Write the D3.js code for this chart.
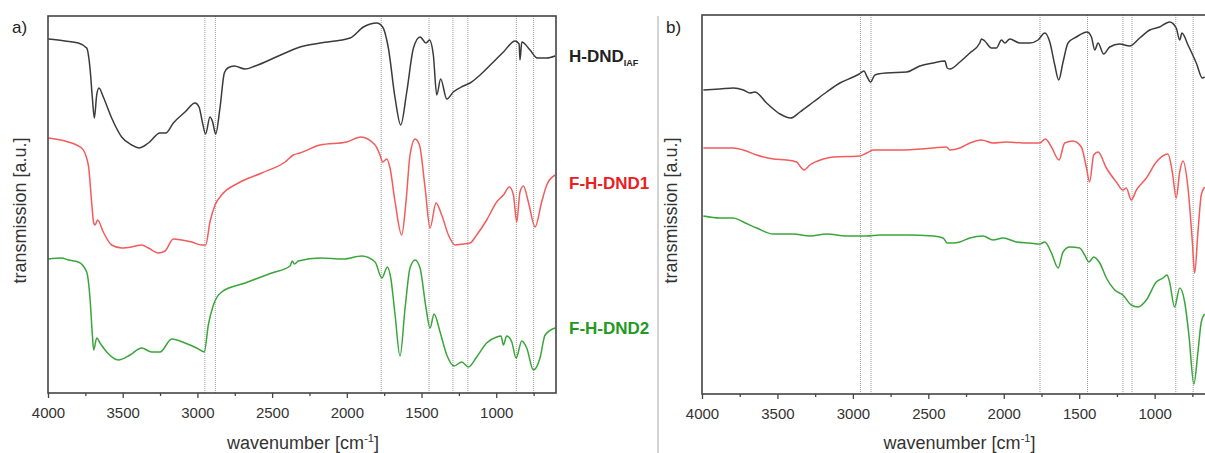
<!DOCTYPE html>
<html>
<head>
<meta charset="utf-8">
<script src="https://cdn.jsdelivr.net/npm/d3@7"></script>
<style>
  body { margin: 0; background: #fff; }
  svg { display: block; font-family: "Liberation Sans", Arial, sans-serif; }
</style>
</head>
<body>
<div id="chart"></div>
<script>
// spectra as [wavenumber, transmission a.u.] pairs
const hdndA = [[3998,354],[3886,352],[3797,350],[3741,345],[3719,325],[3703,295],[3690,275],[3674,298],[3659,305],[3630,296],[3574,275],[3507,256],[3440,248],[3391,245],[3328,250],[3250,260],[3212,260],[3161,270],[3083,281],[3016,290],[2989,286],[2967,271],[2945,259],[2916,276],[2898,271],[2878,259],[2849,285],[2820,320],[2797,325],[2753,327],[2681,324],[2614,327],[2458,337],[2313,346],[2179,350],[1978,355],[1889,366],[1800,370],[1760,366],[1722,345],[1677,295],[1639,268],[1599,301],[1554,345],[1510,356],[1470,350],[1447,353],[1421,338],[1398,298],[1372,314],[1331,294],[1287,301],[1220,307],[1175,310],[1108,318],[1019,331],[952,341],[874,352],[847,349],[841,333],[829,351],[774,343],[725,335],[662,335],[606,337]];
const fhdnd1A = [[3998,255],[3886,252],[3775,245],[3730,228],[3708,191],[3694,170],[3685,168],[3668,173],[3630,161],[3574,148],[3507,145],[3440,146],[3373,148],[3328,145],[3261,140],[3217,142],[3161,154],[3105,153],[3038,151],[2971,148],[2945,148],[2916,171],[2882,188],[2838,198],[2726,210],[2570,220],[2414,231],[2358,238],[2313,240],[2179,248],[2001,251],[1907,256],[1811,248],[1778,238],[1760,231],[1733,234],[1711,225],[1677,191],[1633,158],[1604,191],[1577,238],[1543,254],[1514,248],[1476,205],[1443,165],[1403,190],[1365,178],[1320,158],[1276,148],[1220,149],[1175,150],[1131,158],[1064,173],[997,191],[952,198],[912,206],[885,198],[863,171],[841,201],[818,207],[785,191],[740,166],[696,191],[662,208],[606,218]];
const fhdnd2A = [[3998,134],[3908,135],[3864,133],[3797,131],[3741,121],[3719,95],[3703,58],[3694,43],[3674,55],[3652,50],[3607,41],[3529,33],[3451,38],[3373,45],[3306,41],[3250,41],[3172,54],[3083,50],[3005,45],[2954,41],[2927,68],[2893,88],[2838,101],[2681,110],[2503,120],[2380,127],[2365,132],[2351,129],[2324,132],[2179,135],[2023,134],[1900,137],[1811,131],[1766,115],[1728,126],[1706,115],[1677,78],[1644,37],[1610,85],[1577,125],[1543,133],[1510,125],[1470,85],[1443,65],[1416,79],[1376,61],[1331,38],[1282,27],[1231,31],[1186,26],[1131,36],[1064,50],[997,56],[968,57],[952,48],[930,57],[896,51],[867,35],[829,52],[796,45],[751,23],[707,35],[673,58],[606,65]];

const hdndB = [[3991,304],[3881,305],[3792,306],[3726,304],[3682,301],[3649,302],[3572,291],[3483,280],[3413,276],[3351,282],[3262,292],[3174,302],[3086,311],[2998,317],[2958,320],[2927,323],[2905,317],[2883,312],[2854,319],[2777,321],[2644,322],[2556,328],[2468,331],[2390,333],[2375,326],[2357,325],[2291,332],[2225,341],[2159,351],[2148,355],[2126,353],[2082,346],[2049,346],[2015,354],[1993,351],[1960,355],[1894,351],[1828,351],[1773,354],[1728,361],[1695,352],[1662,329],[1636,314],[1607,332],[1574,351],[1519,357],[1448,362],[1419,357],[1397,344],[1375,351],[1338,340],[1298,347],[1232,350],[1166,348],[1099,356],[1033,364],[967,367],[901,372],[857,366],[834,354],[819,361],[779,349],[724,331],[684,316],[669,317]];
const fhdnd1B = [[3991,246],[3792,246],[3726,244],[3638,239],[3527,235],[3439,234],[3373,232],[3346,227],[3324,224],[3285,229],[3196,235],[3130,237],[2953,238],[2909,241],[2865,244],[2688,244],[2468,246],[2380,247],[2357,244],[2291,246],[2225,251],[2148,254],[2071,251],[1982,252],[1872,251],[1762,251],[1724,255],[1684,247],[1634,234],[1596,251],[1541,253],[1486,247],[1453,227],[1431,212],[1404,239],[1375,242],[1320,226],[1254,212],[1210,204],[1188,206],[1155,194],[1121,204],[1055,216],[989,232],[912,240],[883,222],[857,196],[834,222],[812,233],[779,206],[750,152],[735,121],[713,162],[691,199],[669,207]];
const fhdnd2B = [[3991,178],[3881,176],[3792,176],[3726,172],[3638,166],[3527,160],[3395,160],[3285,158],[3174,160],[3042,158],[2909,158],[2821,159],[2644,159],[2468,158],[2402,156],[2375,151],[2335,151],[2291,152],[2225,156],[2137,158],[2071,154],[2004,156],[1916,152],[1828,151],[1762,150],[1728,152],[1684,141],[1640,126],[1607,142],[1563,147],[1497,146],[1464,139],[1435,132],[1404,137],[1364,131],[1320,116],[1265,104],[1210,99],[1155,89],[1110,87],[1055,94],[989,112],[945,116],[918,119],[901,112],[868,87],[834,106],[801,92],[773,59],[740,10],[713,42],[691,72],[669,80]];

// dotted marker lines
const gridA = [2950, 2880, 1770, 1450, 1290, 1190, 865, 750];
const gridB = [2950, 2880, 1760, 1445, 1210, 1150, 860, 745];
const majorTicks = [4000, 3500, 3000, 2500, 2000, 1500, 1000];
const minorTicks = [3750, 3250, 2750, 2250, 1750, 1250, 750];

const W = 1205, H = 453;
const svg = d3.select("#chart").append("svg").attr("width", W).attr("height", H);

// separator between panels
svg.append("line")
  .attr("x1", 658).attr("x2", 658).attr("y1", 16).attr("y2", H)
  .attr("stroke", "#aaa").attr("stroke-width", 1);

const panels = [
  { tag: "a)", left: 48, right: 556, top: 16, bottom: 393, tagX: 12, yLabX: 26,
    grid: gridA, series: [hdndA, fhdnd1A, fhdnd2A] },
  { tag: "b)", left: 702, right: 1215, top: 15, bottom: 394, tagX: 666, yLabX: 677,
    grid: gridB, series: [hdndB, fhdnd1B, fhdnd2B] }
];
const colors = ["#3b3b3b", "#f45b5b", "#3aa63a"];

panels.forEach(p => {
  const x = d3.scaleLinear().domain([4000, 600]).range([p.left, p.right]);
  const y = d3.scaleLinear().domain([0, p.bottom - p.top]).range([p.bottom, p.top]);
  const g = svg.append("g");

  // dotted reference lines
  g.selectAll(".grid").data(p.grid).enter().append("line")
    .attr("x1", d => x(d)).attr("x2", d => x(d))
    .attr("y1", p.top).attr("y2", p.bottom)
    .attr("stroke", "#9a9a9a").attr("stroke-width", 1)
    .attr("stroke-dasharray", "1,1");

  const line = d3.line()
    .curve(d3.curveMonotoneX)
    .x(d => x(d[0]))
    .y(d => y(d[1]));

  p.series.forEach((s, i) => {
    g.append("path")
      .datum(s)
      .attr("fill", "none")
      .attr("stroke", colors[i])
      .attr("stroke-width", 1.5)
      .attr("stroke-linejoin", "round")
      .attr("d", line);
  });

  // frame
  g.append("rect")
    .attr("x", p.left).attr("y", p.top)
    .attr("width", p.right - p.left).attr("height", p.bottom - p.top)
    .attr("fill", "none").attr("stroke", "#444").attr("stroke-width", 1.6);

  // x axis, major + minor ticks
  const ax = g.append("g")
    .attr("transform", `translate(0,${p.bottom})`)
    .call(d3.axisBottom(x).tickValues(majorTicks).tickSize(5).tickPadding(9).tickFormat(d3.format("d")));
  ax.select(".domain").remove();
  ax.selectAll("line").attr("stroke", "#444").attr("stroke-width", 1.3);
  ax.selectAll("text").attr("fill", "#333").style("font-size", "15px")
    .style("font-family", "'Liberation Sans', Arial, sans-serif");

  const axm = g.append("g")
    .attr("transform", `translate(0,${p.bottom})`)
    .call(d3.axisBottom(x).tickValues(minorTicks).tickSize(3).tickFormat(""));
  axm.select(".domain").remove();
  axm.selectAll("line").attr("stroke", "#444").attr("stroke-width", 1.3);

  // x title
  const xt = g.append("text")
    .attr("x", (p.left + Math.min(p.right, W + 10)) / 2 + 1)
    .attr("y", 449)
    .attr("text-anchor", "middle")
    .attr("fill", "#333")
    .style("font-size", "18px");
  xt.append("tspan").text("wavenumber [cm");
  xt.append("tspan").attr("dy", -7).style("font-size", "11px").text("-1");
  xt.append("tspan").attr("dy", 7).text("]");

  // y title
  g.append("text")
    .attr("transform", `translate(${p.yLabX},${(p.top + p.bottom) / 2 + 6}) rotate(-90)`)
    .attr("text-anchor", "middle")
    .attr("fill", "#333")
    .style("font-size", "18px")
    .text("transmission [a.u.]");

  // panel tag
  g.append("text")
    .attr("x", p.tagX).attr("y", 33)
    .attr("fill", "#222")
    .style("font-size", "17px")
    .text(p.tag);
});

// series names on the right of panel a
const names = svg.append("g").style("font-weight", "bold").style("font-size", "17px");
const n1 = names.append("text").attr("x", 569).attr("y", 62).attr("fill", "#222");
n1.append("tspan").text("H-DND");
n1.append("tspan").attr("dy", 4).style("font-size", "9px").text("IAF");
names.append("text").attr("x", 569).attr("y", 189).attr("fill", "#e8201f").text("F-H-DND1");
names.append("text").attr("x", 569).attr("y", 334).attr("fill", "#229a22").text("F-H-DND2");
</script>
</body>
</html>
